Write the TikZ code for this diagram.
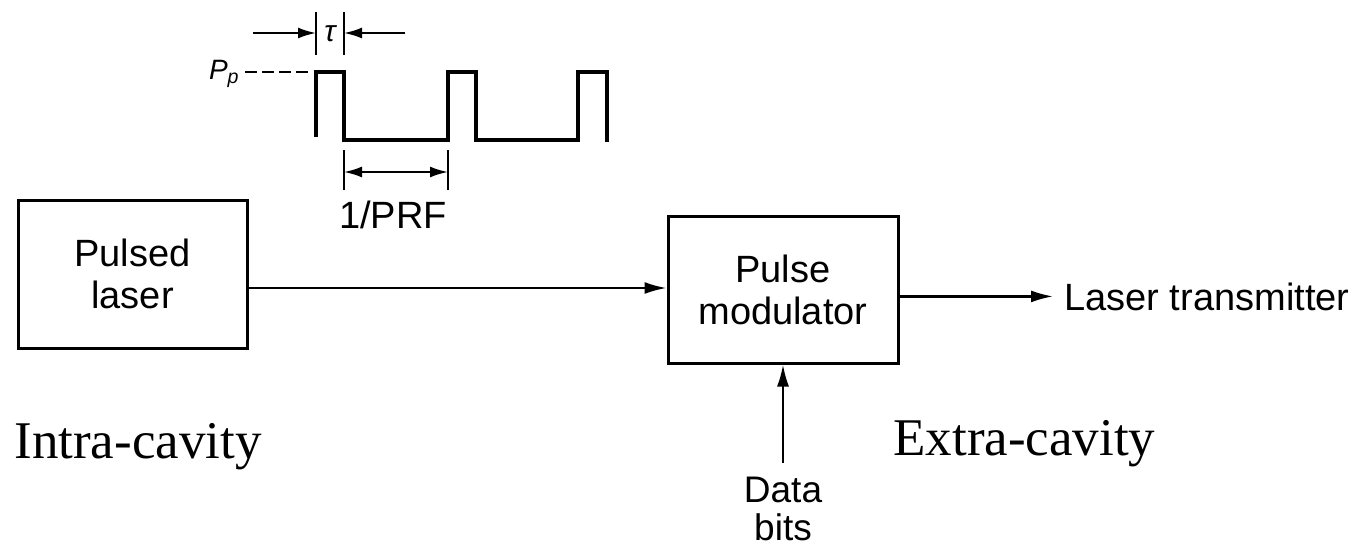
\documentclass[tikz,border=0pt]{standalone}
\usepackage{fontspec}
\setmainfont{Liberation Serif}
\setsansfont{Liberation Sans}
\usepackage{tikz}
\usetikzlibrary{arrows.meta,positioning}

\begin{document}
\begin{tikzpicture}[x=0.5pt, y=-0.5pt, font=\sffamily\fontsize{19}{21}\selectfont,
  blk/.style={draw, line width=1.5pt, align=center, inner sep=0pt},
  lbl/.style={inner sep=0pt, align=center},
  arr/.style={-{Latex[length=11pt, width=6pt]}, line width=1.1pt},
  dimarr/.style={-{Latex[length=9pt, width=5.5pt]}, line width=1pt},
  dim/.style={{Latex[length=9pt, width=5.5pt]}-{Latex[length=9pt, width=5.5pt]}, line width=1pt},
  tick/.style={line width=1.4pt},
  wave/.style={line width=1.8pt, line join=miter},
  cav/.style={font=\rmfamily\fontsize{26.5}{30}\selectfont, inner sep=0pt, anchor=base west}]
\useasboundingbox (0,0) rectangle (1365,552);
% blocks and labels
\node[blk, minimum width=114.5pt, minimum height=74pt] (laser) at (132.5,274) {Pulsed\\laser};
\node[blk, minimum width=115pt, minimum height=73.5pt] (mod) at (783,289.5) {Pulse\\modulator};
\node[lbl, font=\sffamily\fontsize{18.5}{19}\selectfont, below=56pt of mod] (data) {Data\\bits};
\node[lbl, inner xsep=5.5pt, anchor=base west] (tx) at (1053,310) {Laser transmitter};
\node[cav] (intra) at (14,458) {Intra-cavity};
\node[cav] (extra) at (893,455) {Extra-cavity};
% connectors
\draw[arr] ([yshift=-7pt]laser.east) coordinate (lo) -- (lo -| mod.west);
\draw[arr] (mod.east |- tx.west) -- (tx.west);
\draw[arr] ([yshift=7pt]data.north) -- (mod.south);
% pulse train with tau, P_p and 1/PRF marks
\coordinate (t1) at (316,72);
\coordinate (t2) at (344,72);
\coordinate (t3) at (448,72);
\draw[wave] (316,137) -- (t1) -- (t2) -- (344,140) -- (448,140) -- (t3) -- (476,72) -- (476,140) -- (578,140) -- (578,72) -- (607,72) -- (607,142);
\draw[tick] (t1 |- 0,12) -- (t1 |- 0,55);
\draw[tick] (t2 |- 0,12) -- (t2 |- 0,55);
\draw[dimarr] (253,33) -- (t1 |- 0,33);
\draw[dimarr] (405,33) -- (t2 |- 0,33);
\node[lbl, font=\sffamily\itshape\fontsize{15}{15}\selectfont] (tau) at (330,34) {τ};
\node[lbl, font=\sffamily\itshape\fontsize{14}{14}\selectfont, anchor=base east] (pp) at (240,79) {P\textsubscript{p}};
\draw[dash pattern=on 6pt off 2.5pt, line width=1pt] ([xshift=2.5pt]pp.east |- t1) -- ([xshift=-3pt]t1);
\draw[tick] (t2 |- 0,150) -- (t2 |- 0,190);
\draw[tick] (t3 |- 0,150) -- (t3 |- 0,190);
\draw[dim] (t2 |- 0,172) -- (t3 |- 0,172);
\node[lbl, anchor=base] (prf) at (393,228) {1/PRF};
\end{tikzpicture}
\end{document}
